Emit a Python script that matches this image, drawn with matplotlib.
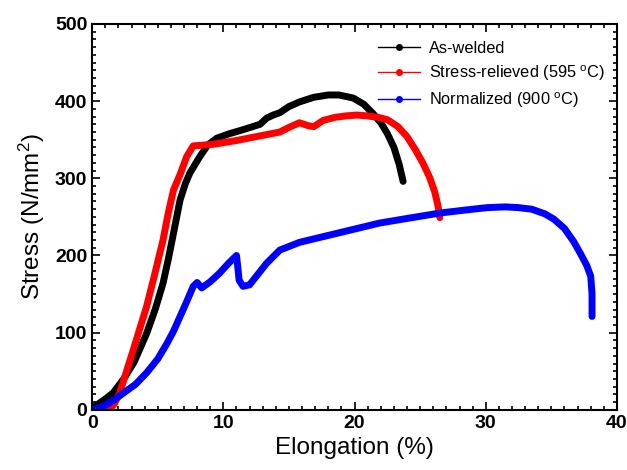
import matplotlib.pyplot as plt
from matplotlib.lines import Line2D
from matplotlib.ticker import MultipleLocator


# Elongation (%) / stress (N/mm2)
WELD_X = [0.0, 0.5, 1.0, 1.6, 2.4, 3.2, 4.15, 4.8, 5.4, 5.8, 6.2, 6.7, 7.1, 7.45,
          8.2, 8.8, 9.5, 10.5, 11.5, 12.8, 13.3, 13.8, 14.3, 15.0, 15.8, 16.9,
          18.0, 18.8, 19.9, 20.7, 21.4, 22.0, 22.5, 23.0, 23.4, 23.7]
WELD_Y = [2, 8, 14, 22, 40, 62, 99, 130, 164, 195, 229, 272, 293, 307,
          328, 343, 352, 358, 363, 370, 378, 382, 385, 393, 399, 405,
          408, 408, 404, 396, 384, 372, 358, 340, 318, 296]

RELIEVED_X = [1.3, 1.7, 2.1, 3.1, 4.15, 4.8, 5.4, 5.8, 6.2, 6.7, 7.2, 7.7, 9.2,
              11.0, 12.8, 14.3, 15.0, 15.8, 16.5, 16.9, 17.6, 18.5, 19.4, 20.2,
              20.9, 21.8, 22.5, 23.3, 24.0, 24.6, 25.2, 25.7, 26.1, 26.35, 26.5]
RELIEVED_Y = [0, 8, 22, 76, 134, 178, 220, 255, 285, 305, 328, 342, 344,
              349, 355, 360, 366, 372, 368, 367, 375, 379, 381, 382,
              381, 379, 376, 367, 354, 338, 320, 302, 283, 265, 249]

NORMALIZED_X = [0.0, 0.8, 1.6, 2.4, 3.3, 4.15, 5.0, 5.7, 6.2, 6.7, 7.2, 7.7, 8.0,
                8.35, 9.0, 9.7, 10.4, 11.0, 11.1, 11.2, 11.5, 12.0, 12.6, 13.3,
                14.3, 15.8, 17.5, 19.7, 21.9, 24.0, 26.5, 28.5, 30.1, 31.5, 32.5,
                33.5, 34.5, 35.2, 36.0, 36.7, 37.2, 37.7, 38.0, 38.1, 38.1]
NORMALIZED_Y = [0, 4, 12, 22, 33, 48, 66, 86, 102, 121, 140, 160, 165,
                158, 166, 177, 190, 200, 185, 168, 160, 162, 175, 190,
                207, 217, 224, 233, 242, 248, 255, 259, 262, 263, 262,
                260, 254, 247, 235, 218, 203, 187, 173, 150, 121]

LABELS = [
    "As-welded",
    "Stress-relieved (595 $^{\\mathrm{o}}$C)",
    "Normalized (900 $^{\\mathrm{o}}$C)"
]

COLORS = ["black", "#ff0000", "#0000ff"]


def main():

    # Arial-like fonts everywhere, including the superscripts
    plt.rcParams["font.family"] = "Liberation Sans"
    plt.rcParams["mathtext.fontset"] = "custom"
    plt.rcParams["mathtext.rm"] = "Liberation Sans"
    plt.rcParams["mathtext.it"] = "Liberation Sans:italic"
    plt.rcParams["mathtext.bf"] = "Liberation Sans:bold"

    fig = plt.figure(figsize=(6.27, 4.70), dpi=100)
    ax = fig.add_axes([0.147, 0.128, 0.837, 0.821])

    # Thick curves, made of dense markers in the original
    series = [(WELD_X, WELD_Y), (RELIEVED_X, RELIEVED_Y), (NORMALIZED_X, NORMALIZED_Y)]
    for (xs, ys), col in zip(series, COLORS):
        ax.plot(xs, ys, color=col, linewidth=5, solid_capstyle="round",
                solid_joinstyle="round", zorder=2)

    # Axes limits and ticks
    ax.set_xlim(0, 40)
    ax.set_ylim(0, 500)
    ax.xaxis.set_major_locator(MultipleLocator(10))
    ax.xaxis.set_minor_locator(MultipleLocator(1))
    ax.yaxis.set_major_locator(MultipleLocator(100))
    ax.yaxis.set_minor_locator(MultipleLocator(10))
    ax.tick_params(which="both", direction="in", top=True, right=True, width=1.2)
    ax.tick_params(which="major", length=6, labelsize=14)
    ax.tick_params(which="minor", length=3)
    for lab in ax.get_xticklabels() + ax.get_yticklabels():
        lab.set_fontweight("bold")
    for sp in ax.spines.values():
        sp.set_linewidth(1.5)

    ax.set_xlabel("Elongation (%)", fontsize=17.5, labelpad=4)
    ax.set_ylabel("Stress (N/mm$^2$)", fontsize=17.5, labelpad=6)

    # Legend with thin line + dot handles
    handles = [Line2D([0], [0], color=c, linewidth=1, marker="o", markersize=4)
               for c in COLORS]
    ax.legend(handles, LABELS, loc="upper right", bbox_to_anchor=(1.005, 0.995),
              frameon=False, fontsize=11.8, handlelength=2.6, handletextpad=0.5,
              labelspacing=0.45)

    plt.savefig("out.png", dpi=100)


if __name__ == '__main__':
    main()
